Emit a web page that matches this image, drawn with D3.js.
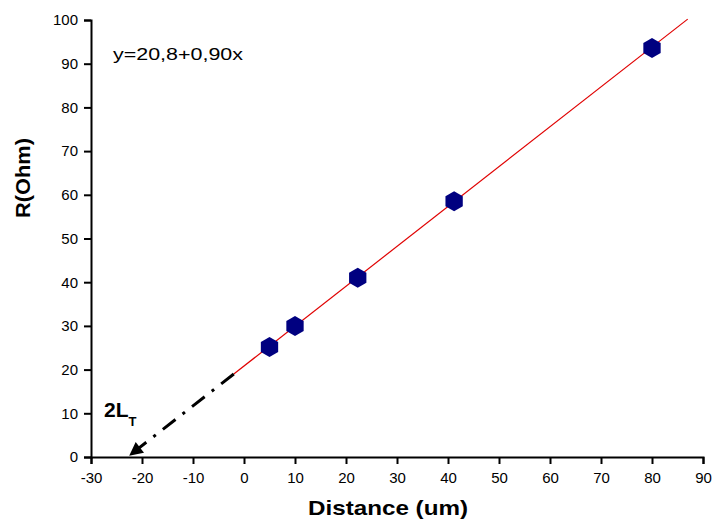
<!DOCTYPE html>
<html>
<head>
<meta charset="utf-8">
<script src="https://cdn.jsdelivr.net/npm/d3@7"></script>
<style>
  body { margin: 0; background: #fff; }
  text { font-family: "Liberation Sans", Arial, sans-serif; }
</style>
</head>
<body>
<div id="chart"></div>
<script>
// measured points
const distance = [5, 10, 22.3, 41.2, 80];
const resistance = [25.2, 30, 41, 58.5, 93.6];
// fitted line end points, as drawn
const fitX = [-2, 87];
const fitY = [19, 100.2];
// extrapolation arrow (dash-dot) towards the x intercept
const arrowX = [-2, -22.3];
const arrowY = [19, 0.5];
const xTicks = [-30, -20, -10, 0, 10, 20, 30, 40, 50, 60, 70, 80, 90];
const yTicks = [0, 10, 20, 30, 40, 50, 60, 70, 80, 90, 100];
const fitLabel = "y=20,8+0,90x";

const W = 712, H = 521;
const margin = { top: 20, right: 9, bottom: 64, left: 91 };

const svg = d3.select("#chart").append("svg")
    .attr("width", W)
    .attr("height", H);

const x = d3.scaleLinear().domain([-30, 90]).range([margin.left, W - margin.right]);
const y = d3.scaleLinear().domain([0, 100]).range([H - margin.bottom, margin.top]);

// minor ticks every 5
const xMinor = d3.range(-25, 90, 10);
const yMinor = d3.range(5, 100, 10);
const fmt = d => String(d); // plain hyphen for negatives

const gx = svg.append("g")
    .attr("transform", `translate(0,${y(0)})`);
gx.call(d3.axisBottom(x).tickValues(xMinor).tickSize(4).tickFormat(""));
gx.call(d3.axisBottom(x).tickValues(xTicks).tickSize(7).tickPadding(8).tickFormat(fmt));

const gy = svg.append("g")
    .attr("transform", `translate(${x(-30)},0)`);
gy.call(d3.axisLeft(y).tickValues(yMinor).tickSize(4).tickFormat(""));
gy.call(d3.axisLeft(y).tickValues(yTicks).tickSize(7).tickPadding(6).tickFormat(fmt));

svg.selectAll(".domain").attr("stroke", "#000").attr("stroke-width", 2);
svg.selectAll(".tick line").attr("stroke", "#000").attr("stroke-width", 2);
svg.selectAll(".tick text")
    .attr("fill", "#000")
    .style("font-size", "15px")
    .style("font-family", "'Liberation Sans', Arial, sans-serif");

// fit line
svg.append("line")
    .attr("x1", x(fitX[0])).attr("y1", y(fitY[0]))
    .attr("x2", x(fitX[1])).attr("y2", y(fitY[1]))
    .attr("stroke", "#e00000")
    .attr("stroke-width", 1.2);

// dash-dot arrow
svg.append("defs").append("marker")
    .attr("id", "head")
    .attr("viewBox", "0 0 10 10")
    .attr("refX", 9).attr("refY", 5)
    .attr("markerWidth", 6).attr("markerHeight", 4.5)
    .attr("markerUnits", "strokeWidth")
    .attr("orient", "auto")
    .append("path")
    .attr("d", "M0,0L10,5L0,10Z")
    .attr("fill", "#000");

svg.append("line")
    .attr("x1", x(arrowX[0])).attr("y1", y(arrowY[0]))
    .attr("x2", x(arrowX[1])).attr("y2", y(arrowY[1]))
    .attr("stroke", "#000")
    .attr("stroke-width", 3)
    .attr("stroke-dasharray", "16,9,3,9")
    .attr("marker-end", "url(#head)");

// hexagon markers
const hex = d3.range(6).map(i => {
    const a = Math.PI / 3 * i - Math.PI / 2;
    return [10 * Math.cos(a), 10 * Math.sin(a)];
});
svg.append("g").selectAll("path")
    .data(distance)
    .join("path")
    .attr("transform", (d, i) => `translate(${x(d)},${y(resistance[i])})`)
    .attr("d", "M" + hex.join("L") + "Z")
    .attr("fill", "#000080");

// annotations
svg.append("text")
    .attr("x", 113).attr("y", 60)
    .attr("textLength", 130)
    .attr("lengthAdjust", "spacingAndGlyphs")
    .style("font-size", "17px")
    .text(fitLabel);

const lt = svg.append("text")
    .attr("x", 104).attr("y", 417)
    .style("font-size", "21px")
    .style("font-weight", "bold");
lt.append("tspan").text("2L");
lt.append("tspan").attr("dy", 9).style("font-size", "13px").text("T");

// axis titles
svg.append("text")
    .attr("x", 308).attr("y", 515)
    .attr("textLength", 160)
    .attr("lengthAdjust", "spacingAndGlyphs")
    .style("font-size", "21px")
    .style("font-weight", "bold")
    .text("Distance (um)");

svg.append("text")
    .attr("transform", "translate(30,218) rotate(-90)")
    .attr("textLength", 80)
    .attr("lengthAdjust", "spacingAndGlyphs")
    .style("font-size", "20px")
    .style("font-weight", "bold")
    .text("R(Ohm)");
</script>
</body>
</html>
